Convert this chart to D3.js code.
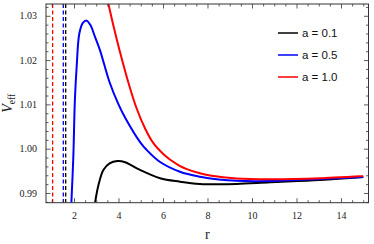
<!DOCTYPE html>
<html>
<head>
<meta charset="utf-8">
<script src="https://cdn.jsdelivr.net/npm/d3@7"></script>
<style>
  body { margin: 0; background: #fff; }
  svg { display: block; }
</style>
</head>
<body>
<div id="chart"></div>
<script>
// a = 0.1
const rBlack = [2.95, 3.1, 3.32, 3.6, 3.95, 4.3, 4.97, 5.87, 6.76, 7.66, 8.5, 9.31, 10.81, 13.06, 15];
const vBlack = [0.9879, 0.9918, 0.9952, 0.9967, 0.99722, 0.99695, 0.9952, 0.99332, 0.99255, 0.99203, 0.99195, 0.99203, 0.9924, 0.99293, 0.99361];
// a = 0.5
const rBlue = [1.88, 1.97, 2.04, 2.12, 2.24, 2.4, 2.57, 2.75, 2.94, 3.17, 3.6, 4.0, 4.3, 4.97, 5.27, 5.87, 6.76, 7.66, 8.5, 9.31, 10.81, 13.06, 15];
const vBlue = [0.9875, 0.9982, 1.011, 1.0185, 1.026, 1.0284, 1.0289, 1.0278, 1.0253, 1.0222, 1.015, 1.01, 1.007, 1.0015, 0.9997, 0.997, 0.99481, 0.99368, 0.99305, 0.99275, 0.99271, 0.99316, 0.99361];
// a = 1.0
const rRed = [3.4, 3.54, 3.8, 4.1, 4.44, 4.8, 5.2, 5.56, 6.0, 6.31, 6.73, 7.07, 7.66, 8.11, 9.31, 10.81, 13.06, 15];
const vRed = [1.036, 1.0328, 1.0272, 1.0212, 1.015, 1.0093, 1.0045, 1.0013, 0.99885, 0.99755, 0.9962, 0.9954, 0.99445, 0.99395, 0.99325, 0.99309, 0.99332, 0.99384];

const seriesNames = ["a = 0.1", "a = 0.5", "a = 1.0"];
const seriesColors = ["#000000", "#0000ff", "#ff0000"];
// dashed vertical markers (horizons)
const horizonR = [1.627, 1.52, 1.04];

const xTicks = [2, 4, 6, 8, 10, 12, 14];
const yTicks = [0.99, 1.0, 1.01, 1.02, 1.03];

const W = 374, H = 244;
const margin = { left: 46, right: 5.5, top: 4, bottom: 41.3 };
const iw = W - margin.left - margin.right;
const ih = H - margin.top - margin.bottom;

const svg = d3.select("#chart").append("svg").attr("width", W).attr("height", H);
const g = svg.append("g").attr("transform", `translate(${margin.left},${margin.top})`);

const x = d3.scaleLinear().domain([0.742, 15.236]).range([0, iw]);
const y = d3.scaleLinear().domain([0.98781, 1.03266]).range([ih, 0]);

svg.append("defs").append("clipPath").attr("id", "clip")
  .append("rect").attr("width", iw).attr("height", ih);

const plot = g.append("g").attr("clip-path", "url(#clip)");

// dashed lines
plot.selectAll("line.hz")
  .data(horizonR)
  .enter()
  .append("line")
  .attr("class", "hz")
  .attr("x1", (d) => x(d)).attr("x2", (d) => x(d))
  .attr("y1", 0).attr("y2", ih)
  .attr("stroke", (d, i) => seriesColors[i])
  .attr("stroke-width", 1.3)
  .attr("stroke-dasharray", "4,2.5");

const series = [
  rBlack.map((r, i) => [r, vBlack[i]]),
  rBlue.map((r, i) => [r, vBlue[i]]),
  rRed.map((r, i) => [r, vRed[i]]),
];

const line = d3.line()
  .x((d) => x(d[0]))
  .y((d) => y(d[1]))
  .curve(d3.curveCatmullRom.alpha(0.5));

plot.selectAll("path.curve")
  .data(series)
  .enter()
  .append("path")
  .attr("class", "curve")
  .attr("fill", "none")
  .attr("stroke", (d, i) => seriesColors[i])
  .attr("stroke-width", 2)
  .attr("d", line);

// frame with inward ticks
const frameColor = "#333";
const xMinor = d3.range(1, 15.01, 0.5).filter((v) => !xTicks.includes(v));
const yMinor = d3.range(0.988, 1.0325, 0.002).filter((v) => !yTicks.some((t) => Math.abs(t - v) < 1e-6));

function xAxis(gen, minor) {
  return gen.tickValues(minor ? xMinor : xTicks).tickSizeInner(minor ? -2.5 : -4.5).tickSizeOuter(0);
}
function yAxis(gen, minor) {
  return gen.tickValues(minor ? yMinor : yTicks).tickSizeInner(minor ? -2.5 : -4.5).tickSizeOuter(0);
}

const axes = [
  g.append("g").attr("transform", `translate(0,${ih})`).call(xAxis(d3.axisBottom(x), false).tickFormat(d3.format("d")).tickPadding(9)),
  g.append("g").attr("transform", `translate(0,${ih})`).call(xAxis(d3.axisBottom(x), true).tickFormat("")),
  g.append("g").call(xAxis(d3.axisTop(x), false).tickFormat("")),
  g.append("g").call(xAxis(d3.axisTop(x), true).tickFormat("")),
  g.append("g").call(yAxis(d3.axisLeft(y), false).tickFormat(d3.format(".2f")).tickPadding(9)),
  g.append("g").call(yAxis(d3.axisLeft(y), true).tickFormat("")),
  g.append("g").attr("transform", `translate(${iw},0)`).call(yAxis(d3.axisRight(y), false).tickFormat("")),
  g.append("g").attr("transform", `translate(${iw},0)`).call(yAxis(d3.axisRight(y), true).tickFormat("")),
];
axes.forEach((a) => {
  a.select(".domain").remove();
  a.selectAll("line").attr("stroke", frameColor).attr("stroke-width", 0.8);
  a.selectAll("text")
    .attr("font-family", "'Liberation Serif', 'Times New Roman', serif")
    .attr("font-size", 10)
    .attr("fill", "#222");
});

g.append("rect")
  .attr("width", iw).attr("height", ih)
  .attr("fill", "none")
  .attr("stroke", frameColor)
  .attr("stroke-width", 1);

// axis titles
svg.append("text")
  .attr("x", margin.left + iw / 2).attr("y", 239)
  .attr("text-anchor", "middle")
  .attr("font-family", "'Liberation Serif', serif")
  .attr("font-size", 14)
  .attr("fill", "#222")
  .text("r");

const yl = svg.append("text")
  .attr("transform", `translate(12,${margin.top + ih / 2}) rotate(-90)`)
  .attr("text-anchor", "middle")
  .attr("font-family", "'Liberation Serif', serif")
  .attr("fill", "#222");
yl.append("tspan").attr("font-style", "italic").attr("font-size", 14).text("V");
yl.append("tspan").attr("font-size", 9.5).attr("dy", 3).text("eff");

// legend
const legend = g.append("g").attr("transform", `translate(${x(0) + 0}, 0)`);
const lg = svg.append("g").selectAll("g")
  .data(seriesNames)
  .enter()
  .append("g")
  .attr("transform", (d, i) => `translate(278,${33 + i * 22})`);
lg.append("line")
  .attr("x1", 0).attr("x2", 20)
  .attr("stroke", (d, i) => seriesColors[i])
  .attr("stroke-width", 1.5);
lg.append("text")
  .attr("x", 24).attr("dy", "0.35em")
  .attr("font-family", "'Liberation Sans', Arial, sans-serif")
  .attr("font-size", 11.5)
  .attr("fill", "#111")
  .text((d) => d);
</script>
</body>
</html>
